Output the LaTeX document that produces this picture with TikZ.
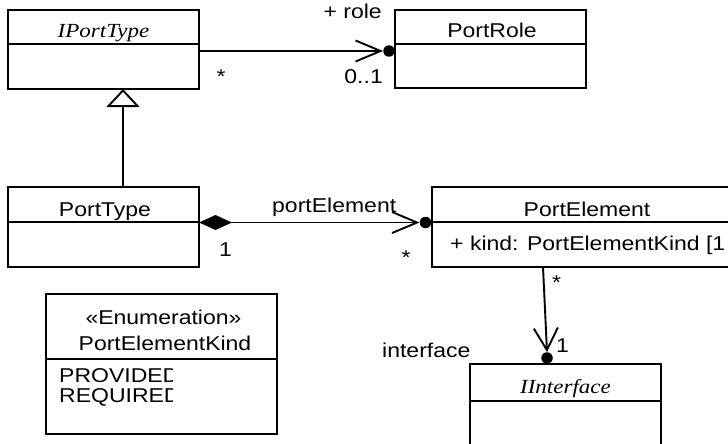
\documentclass[tikz,border=0pt]{standalone}
\usepackage{fontspec}
\setmainfont{Liberation Sans}[FakeStretch=1.15]
\newfontfamily\serit{Liberation Serif}[FakeStretch=1.15]
\usetikzlibrary{arrows.meta}
\begin{document}
\begin{tikzpicture}[x=1pt,y=-1pt,
  line/.style={line width=1.9pt},
  box/.style={draw, line width=1.9pt, inner sep=0pt, outer sep=0pt, anchor=north west},
  txt/.style={anchor=base, inner sep=0pt, font=\fontsize{20}{20}\selectfont},
  dotnode/.style={circle, fill, inner sep=0pt, minimum size=11.5pt},
  barb/.style={-{Straight Barb[length=25pt,width=21pt]}},
]
\useasboundingbox (0,0) rectangle (728,444);
% classes
\node[box, minimum width=191pt, minimum height=79pt] (ipt) at (8,10) {};
\draw[line] (8,44) -- (199,44);
\node[txt] (iptn) at (103.5,38) {\serit\itshape IPortType};

\node[box, minimum width=191pt, minimum height=78pt] (pr) at (395,10) {};
\draw[line] (395,44) -- (586,44);
\node[txt] (prn) at (492,38) {PortRole};

\node[box, minimum width=191pt, minimum height=80pt] (pt) at (8,187) {};
\draw[line] (8,222) -- (199,222);
\node[txt] (ptn) at (105,216) {PortType};

\node[box, minimum width=312pt, minimum height=80pt] (pe) at (432,187) {};
\draw[line] (432,222) -- (744,222);
\node[txt] (pen) at (587,216) {PortElement};
\node[txt, anchor=base west] (pea) at (450,250) {+ kind: PortElementKind [1};

\node[box, minimum width=231pt, minimum height=140pt] (en) at (46,294) {};
\draw[line] (46,359) -- (277,359);
\node[txt] (ens) at (163.5,324) {«Enumeration»};
\node[txt] (enn) at (165,350) {PortElementKind};
\begin{scope}
\clip (47,362) rectangle (172,420);
\node[txt, anchor=base west] (l1) at (59,382) {PROVIDED};
\node[txt, anchor=base west] (l2) at (59,402) {REQUIRED};
\end{scope}

\node[box, minimum width=191pt, minimum height=84pt] (ii) at (470,364) {};
\draw[line] (470,401) -- (661,401);
\node[txt] (iin) at (565.5,393) {\serit\itshape IInterface};

% generalization
\coordinate (gx) at (123,0);
\draw[line, -{Triangle[open, fill=white, length=18pt, width=33pt]}] (pt.north -| gx) -- (ipt.south -| gx);

% association IPortType -> PortRole
\node[dotnode] (rd) at (389,51) {};
\draw[line, barb] (ipt.east |- rd) -- (rd.west);
\node[txt, anchor=base east] (rrole) at (382,19) {+ role};
\node[txt] (rs) at (221,83) {*};
\node[txt, anchor=base east] (rm) at (383,83) {0..1};

% composition PortType -> PortElement
\node[dotnode] (ped) at (425.5,222.5) {};
\draw[line, {Diamond[length=33pt,width=15pt]}-{Straight Barb[length=25pt,width=21pt]}] (pt.east |- ped) -- (ped.west);
\node[txt, anchor=base west] (pel) at (272,212) {portElement};
\node[txt, anchor=base west] (pe1) at (219,256) {1};
\node[txt] (pes) at (406,264) {*};

% PortElement -> IInterface
\coordinate (peb) at (543,267);
\node[dotnode] (iid) at (547,358) {};
\draw[line, -{Straight Barb[length=22pt,width=24pt]}] (peb) -- (iid.north);
\node[txt] (ias) at (556.5,289) {*};
\node[txt, anchor=base west] (ia1) at (556,352) {1};
\node[txt, anchor=base west] (ial) at (382,357) {interface};
\end{tikzpicture}
\end{document}
